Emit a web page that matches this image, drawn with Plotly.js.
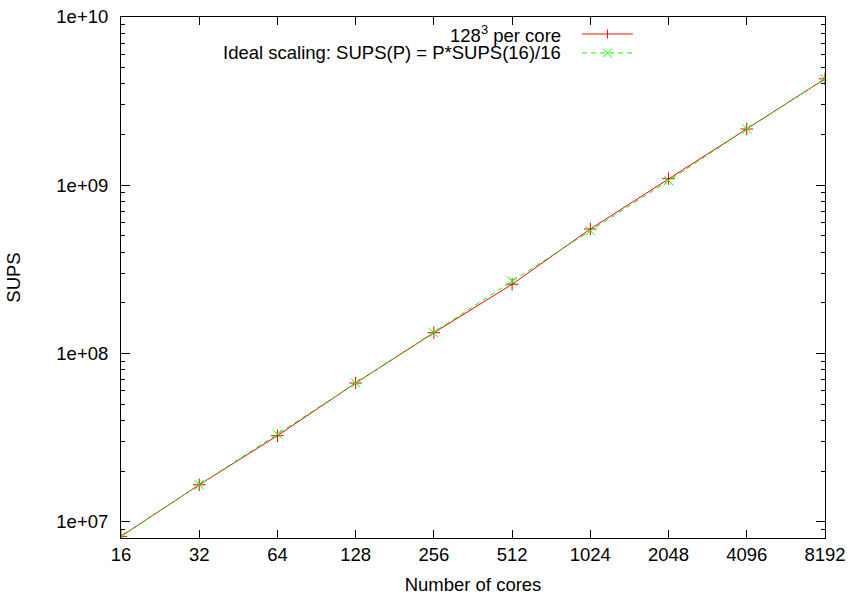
<!DOCTYPE html>
<html>
<head>
<meta charset="utf-8">
<script src="https://cdn.plot.ly/plotly-3.0.1.min.js"></script>
<style>html,body{margin:0;padding:0;background:#fff;}#chart{width:851px;height:597px;}</style>
</head>
<body>
<div id="chart"></div>
<script>
// Data
var cores = [16, 32, 64, 128, 256, 512, 1024, 2048, 4096, 8192];
var supsMeasured = [8.2e6, 1.66e7, 3.25e7, 6.68e7, 1.33e8, 2.58e8, 5.5e8, 1.095e9, 2.16e9, 4.29e9];
var supsIdeal = [8.2e6, 1.66e7, 3.32e7, 6.68e7, 1.33e8, 2.69e8, 5.37e8, 1.065e9, 2.16e9, 4.29e9];
var xTickLabels = ['16', '32', '64', '128', '256', '512', '1024', '2048', '4096', '8192'];
var yTickVals = [1e7, 1e8, 1e9, 1e10];
var yTickLabels = ['1e+07', '1e+08', '1e+09', '1e+10'];
var seriesNames = ['128<sup>3</sup> per core', 'Ideal scaling: SUPS(P) = P*SUPS(16)/16'];

var FONT = 'Liberation Sans, Arial, Helvetica, sans-serif';
var FS = 18.5;
var minorVals = [];
[1e6, 1e7, 1e8, 1e9].forEach(function (d) {
  for (var k = 2; k <= 9; k++) minorVals.push(d * k);
});

var traces = [
  {
    x: cores, y: supsMeasured, type: 'scatter', mode: 'lines+markers',
    name: seriesNames[0],
    line: {color: '#ff0000', width: 1},
    marker: {symbol: 'cross-thin', size: 9, line: {color: '#ff0000', width: 1}}
  },
  {
    x: cores, y: supsIdeal, type: 'scatter', mode: 'lines+markers',
    name: seriesNames[1],
    line: {color: '#00ff00', width: 1, dash: '5px,4px'},
    marker: {symbol: 'x-thin', size: 9, line: {color: '#00ff00', width: 1}}
  }
];

// manual gnuplot-style legend (text right, sample on the right)
var legX = 0.628, sampleX0 = 0.655, sampleX1 = 0.727, sampleXm = 0.691;
var rowsY = [0.9674, 0.931];
var annotations = [];
var shapes = [];
var legColors = ['#ff0000', '#00ff00'];
for (var i = 0; i < 2; i++) {
  annotations.push({
    xref: 'paper', yref: 'paper', x: legX, y: rowsY[i], xanchor: 'right', yanchor: 'middle',
    text: seriesNames[i], showarrow: false, font: {family: FONT, size: FS, color: '#000'}
  });
  shapes.push({
    type: 'line', xref: 'paper', yref: 'paper', x0: sampleX0, x1: sampleX1, y0: rowsY[i], y1: rowsY[i],
    line: {color: legColors[i], width: 1, dash: i === 1 ? '5px,4px' : 'solid'}
  });
}
// legend markers: '+' for first, 'x' for second
shapes.push({type: 'line', xref: 'paper', yref: 'paper', xsizemode: 'pixel', ysizemode: 'pixel',
  xanchor: sampleXm, yanchor: rowsY[0], x0: 0, x1: 0, y0: -4.5, y1: 4.5, line: {color: '#ff0000', width: 1}});
shapes.push({type: 'line', xref: 'paper', yref: 'paper', xsizemode: 'pixel', ysizemode: 'pixel',
  xanchor: sampleXm, yanchor: rowsY[1], x0: -4.5, x1: 4.5, y0: -4.5, y1: 4.5, line: {color: '#00ff00', width: 1}});
shapes.push({type: 'line', xref: 'paper', yref: 'paper', xsizemode: 'pixel', ysizemode: 'pixel',
  xanchor: sampleXm, yanchor: rowsY[1], x0: -4.5, x1: 4.5, y0: 4.5, y1: -4.5, line: {color: '#00ff00', width: 1}});

var layout = {
  width: 851, height: 597,
  margin: {l: 121, r: 26, t: 17, b: 59, pad: 0},
  paper_bgcolor: '#fff', plot_bgcolor: '#fff',
  showlegend: false,
  font: {family: FONT, size: FS, color: '#000'},
  xaxis: {
    type: 'log', range: [Math.log10(16), Math.log10(8192)],
    tickmode: 'array', tickvals: cores, ticktext: xTickLabels,
    ticks: 'inside', ticklen: 8, tickwidth: 1, tickcolor: '#000',
    showline: true, linecolor: '#000', linewidth: 1, mirror: 'ticks',
    showgrid: false, zeroline: false,
    tickfont: {family: FONT, size: FS, color: '#000'},
    ticklabelstandoff: 0,
    title: {text: 'Number of cores', font: {family: FONT, size: FS, color: '#000'}, standoff: 13}
  },
  yaxis: {
    type: 'log', range: [6.904, 10],
    tickmode: 'array', tickvals: yTickVals, ticktext: yTickLabels,
    ticks: 'inside', ticklen: 9, tickwidth: 1, tickcolor: '#000',
    showline: true, linecolor: '#000', linewidth: 1, mirror: 'ticks',
    showgrid: false, zeroline: false,
    tickfont: {family: FONT, size: FS, color: '#000'},
    ticklabelstandoff: 8,
    minor: {tickmode: 'array', tickvals: minorVals, ticks: 'inside', ticklen: 4, tickwidth: 1, tickcolor: '#000', showgrid: false},
    title: {text: 'SUPS', font: {family: FONT, size: FS, color: '#000'}, standoff: 30}
  },
  annotations: annotations,
  shapes: shapes
};

Plotly.newPlot('chart', traces, layout, {staticPlot: true, displayModeBar: false});
</script>
</body>
</html>
